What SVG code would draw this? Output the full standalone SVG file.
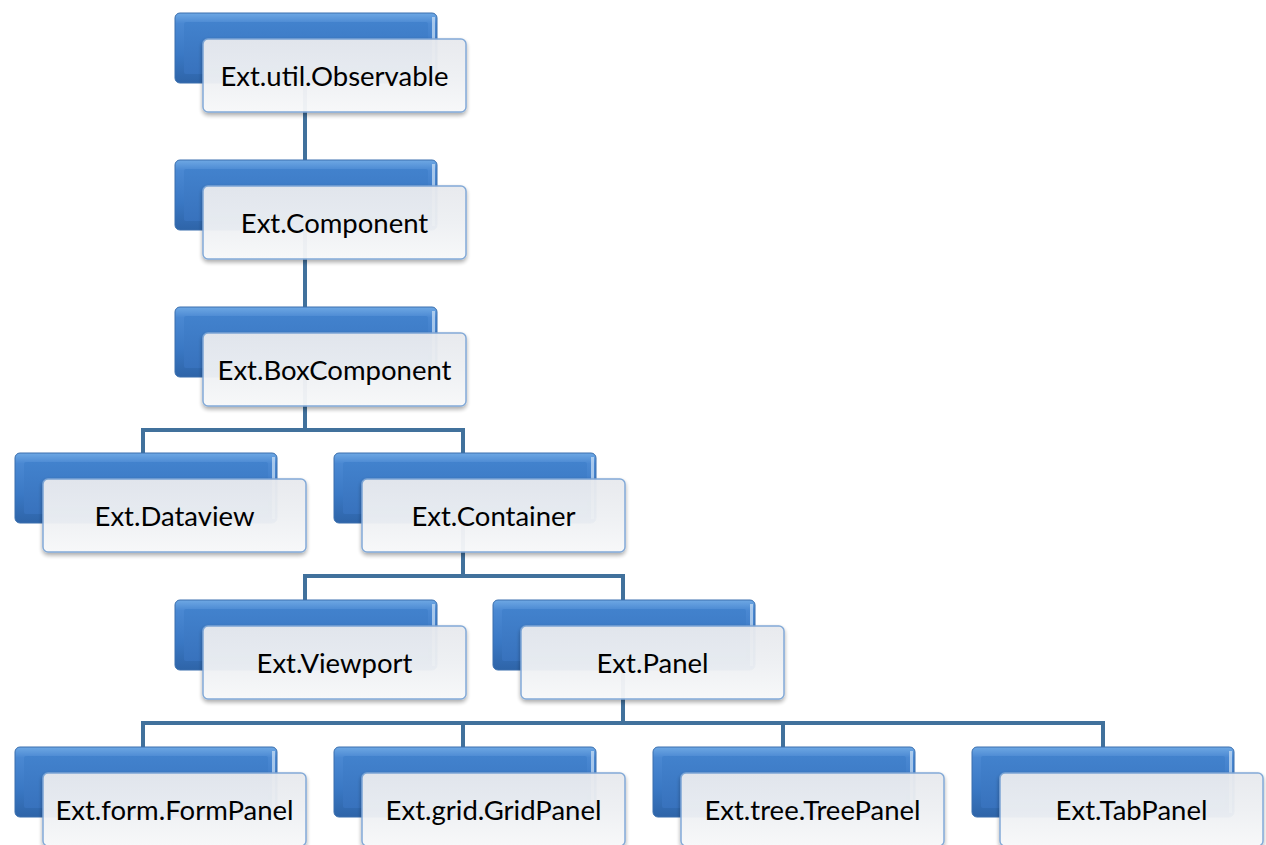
<svg xmlns="http://www.w3.org/2000/svg" width="1266" height="845" viewBox="0 0 1266 845">
<defs>
<linearGradient id="gBlue" x1="0" y1="0" x2="0" y2="1">
<stop offset="0" stop-color="#6ea8e4"/>
<stop offset="0.15" stop-color="#4a88d2"/>
<stop offset="0.6" stop-color="#3a78c4"/>
<stop offset="1" stop-color="#2e64a8"/>
</linearGradient>
<linearGradient id="gBlueIn" x1="0" y1="0" x2="0" y2="1">
<stop offset="0" stop-color="#4282cd"/>
<stop offset="1" stop-color="#3872bd"/>
</linearGradient>
<linearGradient id="gWhite" x1="0" y1="0" x2="0" y2="1">
<stop offset="0" stop-color="#e8eaee"/>
<stop offset="0.5" stop-color="#eef0f3"/>
<stop offset="1" stop-color="#f7f8f9"/>
</linearGradient>
<filter id="sh" x="-10%" y="-20%" width="120%" height="150%">
<feDropShadow dx="0" dy="2.5" stdDeviation="2" flood-color="#000" flood-opacity="0.35"/>
</filter>
</defs>
<style>
.conn{fill:none;stroke:#41719c;stroke-width:4;stroke-linejoin:miter}
.bo{fill:url(#gBlue);stroke:#3a6fae;stroke-width:1}
.bi{fill:url(#gBlueIn)}
.hl{fill:#cfe3f7;opacity:0.7}
.wb{fill:url(#gWhite);stroke:#7fa7d6;stroke-width:1.5;filter:url(#sh);opacity:0.96}
.t{font-family:Lato,"Liberation Sans",sans-serif;font-size:27.5px;fill:#000;text-anchor:middle}
</style>
<g id="connectors">
<path class="conn" d="M305,80V165"/>
<path class="conn" d="M305,228V312"/>
<path class="conn" d="M305,375V430M143,456V430H463V456"/>
<path class="conn" d="M463,520V576M305,603V576H623V603"/>
<path class="conn" d="M623,668V723M143,750V723H1103V750M463,723V750M783,723V750"/>
</g>
<g id="n1" transform="translate(175,13)">
<rect class="bo" width="262" height="70" rx="5"/><rect class="bi" x="9" y="9" width="244" height="52" rx="2"/><rect class="hl" x="257" y="4" width="3" height="62"/>
<rect class="wb" x="28" y="26" width="263" height="73" rx="5"/>
<text class="t" x="159.5" y="73">Ext.util.Observable</text>
</g>
<g id="n2" transform="translate(175,160)">
<rect class="bo" width="262" height="70" rx="5"/><rect class="bi" x="9" y="9" width="244" height="52" rx="2"/><rect class="hl" x="257" y="4" width="3" height="62"/>
<rect class="wb" x="28" y="26" width="263" height="73" rx="5"/>
<text class="t" x="159.5" y="73">Ext.Component</text>
</g>
<g id="n3" transform="translate(175,307)">
<rect class="bo" width="262" height="70" rx="5"/><rect class="bi" x="9" y="9" width="244" height="52" rx="2"/><rect class="hl" x="257" y="4" width="3" height="62"/>
<rect class="wb" x="28" y="26" width="263" height="73" rx="5"/>
<text class="t" x="159.5" y="73">Ext.BoxComponent</text>
</g>
<g id="n4" transform="translate(15,453)">
<rect class="bo" width="262" height="70" rx="5"/><rect class="bi" x="9" y="9" width="244" height="52" rx="2"/><rect class="hl" x="257" y="4" width="3" height="62"/>
<rect class="wb" x="28" y="26" width="263" height="73" rx="5"/>
<text class="t" x="159.5" y="73">Ext.Dataview</text>
</g>
<g id="n5" transform="translate(334,453)">
<rect class="bo" width="262" height="70" rx="5"/><rect class="bi" x="9" y="9" width="244" height="52" rx="2"/><rect class="hl" x="257" y="4" width="3" height="62"/>
<rect class="wb" x="28" y="26" width="263" height="73" rx="5"/>
<text class="t" x="159.5" y="73">Ext.Container</text>
</g>
<g id="n6" transform="translate(175,600)">
<rect class="bo" width="262" height="70" rx="5"/><rect class="bi" x="9" y="9" width="244" height="52" rx="2"/><rect class="hl" x="257" y="4" width="3" height="62"/>
<rect class="wb" x="28" y="26" width="263" height="73" rx="5"/>
<text class="t" x="159.5" y="73">Ext.Viewport</text>
</g>
<g id="n7" transform="translate(493,600)">
<rect class="bo" width="262" height="70" rx="5"/><rect class="bi" x="9" y="9" width="244" height="52" rx="2"/><rect class="hl" x="257" y="4" width="3" height="62"/>
<rect class="wb" x="28" y="26" width="263" height="73" rx="5"/>
<text class="t" x="159.5" y="73">Ext.Panel</text>
</g>
<g id="n8" transform="translate(15,747)">
<rect class="bo" width="262" height="70" rx="5"/><rect class="bi" x="9" y="9" width="244" height="52" rx="2"/><rect class="hl" x="257" y="4" width="3" height="62"/>
<rect class="wb" x="28" y="26" width="263" height="73" rx="5"/>
<text class="t" x="159.5" y="73">Ext.form.FormPanel</text>
</g>
<g id="n9" transform="translate(334,747)">
<rect class="bo" width="262" height="70" rx="5"/><rect class="bi" x="9" y="9" width="244" height="52" rx="2"/><rect class="hl" x="257" y="4" width="3" height="62"/>
<rect class="wb" x="28" y="26" width="263" height="73" rx="5"/>
<text class="t" x="159.5" y="73">Ext.grid.GridPanel</text>
</g>
<g id="n10" transform="translate(653,747)">
<rect class="bo" width="262" height="70" rx="5"/><rect class="bi" x="9" y="9" width="244" height="52" rx="2"/><rect class="hl" x="257" y="4" width="3" height="62"/>
<rect class="wb" x="28" y="26" width="263" height="73" rx="5"/>
<text class="t" x="159.5" y="73">Ext.tree.TreePanel</text>
</g>
<g id="n11" transform="translate(972,747)">
<rect class="bo" width="262" height="70" rx="5"/><rect class="bi" x="9" y="9" width="244" height="52" rx="2"/><rect class="hl" x="257" y="4" width="3" height="62"/>
<rect class="wb" x="28" y="26" width="263" height="73" rx="5"/>
<text class="t" x="159.5" y="73">Ext.TabPanel</text>
</g>
</svg>
